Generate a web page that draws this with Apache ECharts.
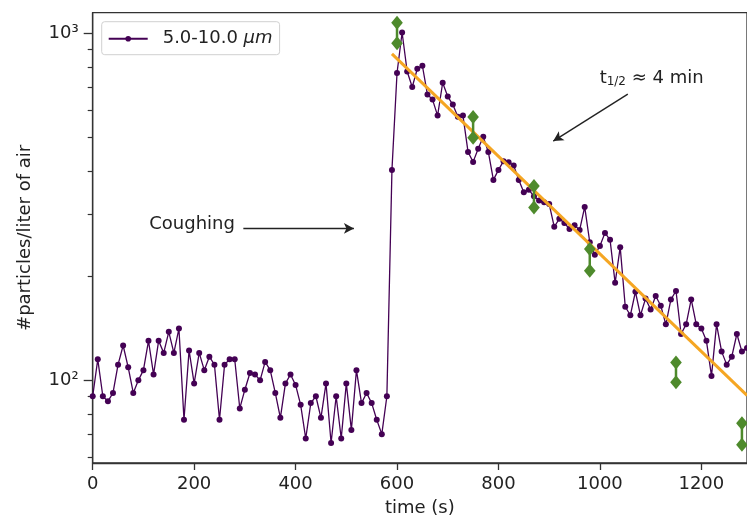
<!DOCTYPE html>
<html>
<head>
<meta charset="utf-8">
<script src="https://cdn.jsdelivr.net/npm/echarts@6/dist/echarts.min.js"></script>
<style>
html,body{margin:0;padding:0;background:#fff;}
#chart{width:747px;height:522px;}
</style>
</head>
<body>
<div id="chart"></div>
<script>
// ---- data ----
const times = [0,10,20,30,40,50,60,70,80,90,100,110,120,130,140,150,160,170,180,190,
  200,210,220,230,240,250,260,270,280,290,300,310,320,330,340,350,360,370,380,390,
  400,410,420,430,440,450,460,470,480,490,500,510,520,530,540,550,560,570,580,590,
  600,610,620,630,640,650,660,670,680,690,700,710,720,730,740,750,760,770,780,790,
  800,810,820,830,840,850,860,870,880,890,900,910,920,930,940,950,960,970,980,990,
  1000,1010,1020,1030,1040,1050,1060,1070,1080,1090,1100,1110,1120,1130,1140,1150,1160,1170,1180,1190,
  1200,1210,1220,1230,1240,1250,1260,1270,1280,1290];
const counts = [90,115,90,87,92,111,126,109,92,100,107,130,104,130,120,138,120,141,77,122,
  98,120,107,117,111,77,111,115,115,83,94,105,104,100,113,107,92,78,98,104,
  97,85,68,86,90,78,98,66,90,68,98,72,107,86,92,86,77,70,90,404,
  768,1005,776,700,790,806,666,644,579,720,657,623,575,579,455,426,465,503,455,378,
  404,428,425,416,378,348,354,339,330,326,322,277,292,284,273,280,271,316,250,230,
  244,266,254,191,242,163,154,180,154,172,160,175,164,145,171,181,136,145,171,145,
  141,130,103,145,121,111,117,136,121,124];
const rangeTimes = [600,750,870,980,1150,1280];
const rangeLow  = [936,500,315,207,98.7,65.2];
const rangeHigh = [1072,574,363,239,112.6,75.3];
const fitTimes  = [590,1290];
const fitValues = [872,90.5];
const xTicks = [0,200,400,600,800,1000,1200];
const yMajor = [100,1000];
const yMinor = [60,70,80,90,200,300,400,500,600,700,800,900];
const yMin = 57.8, yMax = 1146;
const seriesName = '5.0-10.0 μm';
// annotation anchors (data coords)
const coughText = [196,282];
const coughArrow = [[297,274],[515,274]];
const halfText = [1102,749];
const halfArrow = [[1055,668],[908,489]];

const FONT = 'DejaVu Sans';
const TXT = '#222';
const AX = '#333';
const PURPLE = '#440154';
const GREEN = '#4e8a2c';
const ORANGE = '#f5a623';

const sup = {2:'²',3:'³'};
const chart = echarts.init(document.getElementById('chart'));

const option = {
  animation: false,
  textStyle: {fontFamily: FONT},
  grid: {left: 92.7, right: 0, top: 12.7, bottom: 57, show: true, borderColor: AX, borderWidth: 1.3},
  legend: {
    data: [seriesName], left: 101.7, top: 21.7,
    padding: [8, 7, 7, 6],
    backgroundColor: 'rgba(255,255,255,0.85)', borderColor: '#d0d0d0', borderWidth: 1, borderRadius: 3,
    itemWidth: 39, itemHeight: 7,
    formatter: () => '{g|}{a|5.0-10.0 }{b|μm}',
    textStyle: {
      color: TXT, fontSize: 18, fontFamily: FONT,
      rich: {g: {width: 10}, a: {fontSize: 18, fontFamily: FONT, color: TXT}, b: {fontSize: 18, fontStyle: 'italic', fontFamily: FONT, color: TXT}}
    }
  },
  xAxis: {
    type: 'value', min: 0, max: 1290,
    name: 'time (s)', nameLocation: 'middle', nameGap: 36,
    nameTextStyle: {fontSize: 18, color: TXT, fontFamily: FONT},
    axisLine: {lineStyle: {color: AX, width: 1.3}},
    axisTick: {length: 7, lineStyle: {color: AX, width: 1.3}, customValues: xTicks},
    axisLabel: {fontSize: 18, color: TXT, margin: 12, customValues: xTicks, fontFamily: FONT,
      formatter: v => String(Math.round(v))},
    splitLine: {show: false}
  },
  yAxis: [
    {
      type: 'log', logBase: 10, min: yMin, max: yMax,
      name: '#particles/liter of air', nameLocation: 'middle', nameGap: 58, nameRotate: 90,
      nameTextStyle: {fontSize: 18, color: TXT, fontFamily: FONT},
      axisLine: {show: true, lineStyle: {color: AX, width: 1.3}},
      axisTick: {show: false}, axisLabel: {show: false}, splitLine: {show: false}, minorTick: {show: false}
    },
    {
      type: 'value', min: Math.log10(yMin), max: Math.log10(yMax), position: 'left',
      axisLine: {show: false},
      axisTick: {show: true, length: 9, lineStyle: {color: AX, width: 1.3}, customValues: yMajor.map(Math.log10)},
      axisLabel: {show: true, fontSize: 18, color: TXT, margin: 14, fontFamily: FONT,
        customValues: yMajor.map(Math.log10),
        formatter: v => '10' + sup[Math.round(v)]},
      splitLine: {show: false}
    },
    {
      type: 'value', min: Math.log10(yMin), max: Math.log10(yMax), position: 'left',
      axisLine: {show: false},
      axisTick: {show: true, length: 5, lineStyle: {color: AX, width: 1.2}, customValues: yMinor.map(Math.log10)},
      axisLabel: {show: false},
      splitLine: {show: false}
    }
  ],
  series: [
    {
      name: seriesName, type: 'line', yAxisIndex: 0,
      data: times.map((t, i) => [t, counts[i]]),
      symbol: 'circle', symbolSize: 6,
      lineStyle: {color: PURPLE, width: 1.3},
      itemStyle: {color: PURPLE},
      z: 2
    },
    {
      name: 'fit', type: 'line', yAxisIndex: 0,
      data: fitTimes.map((t, i) => [t, fitValues[i]]),
      symbol: 'none', lineStyle: {color: ORANGE, width: 3},
      z: 3,
      markLine: {
        silent: true, animation: false,
        symbol: ['none', 'arrow'], symbolSize: [8, 10],
        label: {show: false},
        lineStyle: {color: TXT, width: 1.4, type: 'solid'},
        data: [
          [{coord: coughArrow[0]}, {coord: coughArrow[1]}],
          [{coord: halfArrow[0]}, {coord: halfArrow[1]}]
        ]
      },
      markPoint: {
        silent: true, animation: false,
        symbol: 'circle', symbolSize: 1, itemStyle: {color: 'rgba(0,0,0,0)'},
        label: {show: true, position: 'inside', color: TXT, fontSize: 18, fontFamily: FONT},
        data: [
          {coord: coughText, label: {formatter: 'Coughing'}},
          {coord: halfText, label: {
            formatter: '{t|t}{s|1/2}{n| ≈ 4 min}',
            rich: {
              t: {fontSize: 18, color: TXT, fontFamily: FONT, lineHeight: 22, verticalAlign: 'bottom'},
              s: {fontSize: 12, color: TXT, fontFamily: FONT, lineHeight: 10, verticalAlign: 'bottom'},
              n: {fontSize: 18, color: TXT, fontFamily: FONT, lineHeight: 22, verticalAlign: 'bottom'}
            }
          }}
        ]
      }
    },
    {
      name: 'range', type: 'custom', yAxisIndex: 0, z: 4,
      data: rangeTimes.map((t, i) => [t, rangeLow[i], rangeHigh[i]]),
      encode: {x: 0, y: [1, 2]},
      renderItem: (params, api) => {
        const x = api.value(0);
        const p1 = api.coord([x, api.value(1)]);
        const p2 = api.coord([x, api.value(2)]);
        const dia = (p) => ({type: 'polygon', shape: {points: [[p[0], p[1]-7], [p[0]+5.8, p[1]], [p[0], p[1]+7], [p[0]-5.8, p[1]]]}, style: {fill: GREEN}});
        return {type: 'group', children: [
          {type: 'line', shape: {x1: p1[0], y1: p1[1], x2: p2[0], y2: p2[1]}, style: {stroke: GREEN, lineWidth: 2.5}},
          dia(p1), dia(p2)
        ]};
      }
    }
  ]
};
chart.setOption(option);
</script>
</body>
</html>
